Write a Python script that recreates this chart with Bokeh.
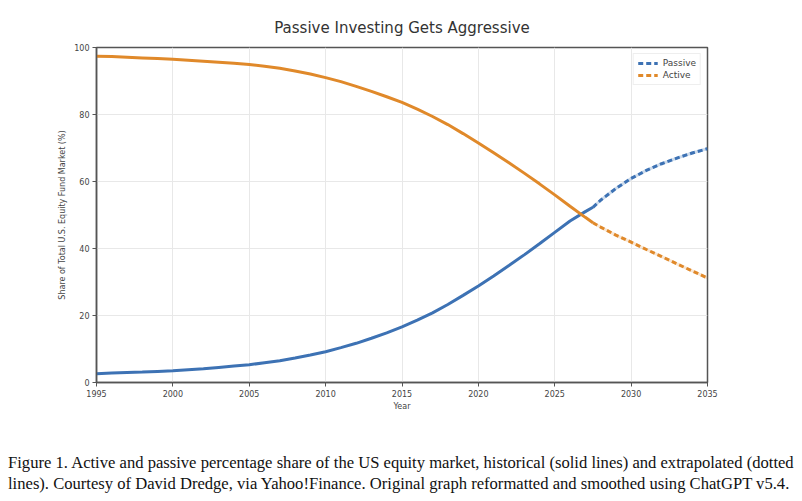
from bokeh.plotting import figure
from bokeh.models import FixedTicker, Div
from bokeh.layouts import column
from bokeh.embed import file_html
from bokeh.resources import INLINE

# values
hist_years = [1995, 1996, 1997, 1998, 1999, 2000, 2001, 2002, 2003, 2004,
              2005, 2006, 2007, 2008, 2009, 2010, 2011, 2012, 2013, 2014,
              2015, 2016, 2017, 2018, 2019, 2020, 2021, 2022, 2023, 2024,
              2025, 2026, 2027, 2027.5]
passive_hist = [2.6, 2.8, 3.0, 3.1, 3.3, 3.5, 3.8, 4.1, 4.5, 4.9,
                5.3, 5.9, 6.5, 7.3, 8.2, 9.2, 10.4, 11.7, 13.2, 14.8,
                16.6, 18.6, 20.8, 23.3, 26.0, 28.8, 31.8, 34.9, 38.1, 41.4,
                44.8, 48.2, 51.0, 52.3]
active_hist = [97.4, 97.3, 97.1, 96.9, 96.7, 96.5, 96.2, 95.9, 95.6, 95.3,
               94.9, 94.4, 93.8, 93.0, 92.1, 91.0, 89.8, 88.4, 86.9, 85.3,
               83.6, 81.6, 79.4, 77.0, 74.3, 71.5, 68.6, 65.6, 62.5, 59.3,
               56.0, 52.6, 49.3, 47.7]

proj_years = [2027.5, 2028, 2029, 2030, 2031, 2032, 2033, 2034, 2035]
passive_proj = [52.3, 54.4, 57.9, 60.9, 63.3, 65.3, 67.0, 68.5, 69.8]
active_proj = [47.7, 46.4, 44.0, 41.9, 39.7, 37.6, 35.4, 33.3, 31.2]

x_ticks = [1995, 2000, 2005, 2010, 2015, 2020, 2025, 2030, 2035]
y_ticks = [0, 20, 40, 60, 80, 100]

blue = "#3d72b4"
orange = "#e0892a"

p = figure(width=786, height=428, x_range=(1995, 2035), y_range=(0, 100),
           output_backend="svg", toolbar_location=None,
           title="Passive Investing Gets Aggressive",
           min_border_left=96, min_border_right=79, min_border_top=47, min_border_bottom=46)

p.title.align = "center"
p.title.text_font = "DejaVu Sans"
p.title.text_font_size = "15px"
p.title.text_font_style = "normal"
p.title.text_color = "#333333"
p.title.standoff = 22

p.line(hist_years, passive_hist, line_color=blue, line_width=3)
p.line(hist_years, active_hist, line_color=orange, line_width=3)

p.line(proj_years, passive_proj, line_color=blue, line_width=3, line_alpha=0.25)
p.line(proj_years, active_proj, line_color=orange, line_width=3, line_alpha=0.2)
p.line(proj_years, passive_proj, line_color=blue, line_width=3, line_dash="5 3",
       legend_label="Passive")
p.line(proj_years, active_proj, line_color=orange, line_width=3, line_dash="5 3",
       legend_label="Active")

p.xaxis.ticker = FixedTicker(ticks=x_ticks)
p.yaxis.ticker = FixedTicker(ticks=y_ticks)
p.xaxis.axis_label = "Year"
p.yaxis.axis_label = "Share of Total U.S. Equity Fund Market (%)"

for ax in (p.xaxis, p.yaxis):
    ax.axis_label_text_font = "DejaVu Sans"
    ax.axis_label_text_font_size = "8px"
    ax.axis_label_text_font_style = "normal"
    ax.axis_label_text_color = "#444444"
    ax.major_label_text_font = "DejaVu Sans"
    ax.major_label_text_font_size = "8px"
    ax.major_label_text_color = "#444444"
    ax.axis_line_color = "#555555"
    ax.axis_line_width = 1.5
    ax.major_tick_line_color = "#555555"
    ax.major_tick_in = 0
    ax.major_tick_out = 4
    ax.minor_tick_line_color = None

p.xaxis.major_label_standoff = 3
p.yaxis.major_label_standoff = 3
p.xaxis.axis_label_standoff = 2
p.yaxis.axis_label_standoff = 4

p.outline_line_color = "#555555"
p.outline_line_width = 1.5
p.grid.grid_line_color = "#e8e8e8"
p.grid.grid_line_width = 1

p.legend.location = "top_right"
p.legend.label_text_font = "DejaVu Sans"
p.legend.label_text_font_size = "9px"
p.legend.label_text_color = "#444444"
p.legend.glyph_width = 20
p.legend.glyph_height = 10
p.legend.label_height = 10
p.legend.spacing = 2
p.legend.padding = 4
p.legend.margin = 6
p.legend.border_line_color = "#dddddd"
p.legend.background_fill_alpha = 0.9

caption = Div(
    text="Figure 1. Active and passive percentage share of the US equity market, "
         "historical (solid lines) and extrapolated (dotted<br>lines). Courtesy of "
         "David Dredge, via Yahoo!Finance. Original graph reformatted and smoothed "
         "using ChatGPT v5.4.",
    width=786,
    styles={"font-family": "Liberation Serif", "font-size": "16.6px",
            "line-height": "21px", "color": "#111111", "white-space": "nowrap"},
    margin=(24, 0, 0, 8))

page = column(p, caption)
open("out.html", "w").write(file_html(page, INLINE))
